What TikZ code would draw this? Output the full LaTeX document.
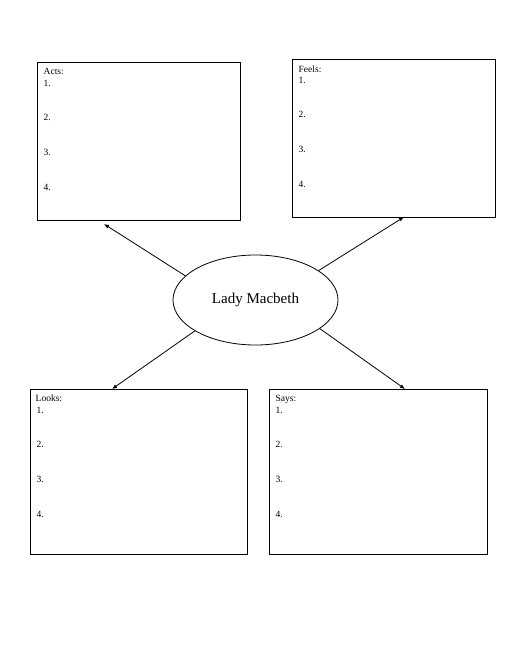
\documentclass[tikz,border=0pt]{standalone}
\usepackage{fontspec}
\setmainfont{Liberation Serif}
\usetikzlibrary{shapes.geometric,arrows.meta}
\begin{document}
\begin{tikzpicture}[x=1pt,y=-1pt,
  panel/.style={draw=black,line width=1pt,rectangle,inner sep=0pt},
  heading/.style={anchor=base west,inner sep=0pt,font=\fontsize{9.5}{11}\selectfont},
  item/.style={anchor=base west,inner sep=0pt,font=\fontsize{9.5}{11}\selectfont},
  link/.style={line width=0.8pt,-{Latex[length=5pt,width=4pt]}}]
\useasboundingbox (0,0) rectangle (510,660);

% the four boxes
\node[panel,minimum width=203pt,minimum height=157pt] (acts) at (138.5,141.5) {};
\node[panel,minimum width=203pt,minimum height=157pt] (feels) at (393.5,138.5) {};
\node[panel,minimum width=217pt,minimum height=165pt] (looks) at (138.5,471.5) {};
\node[panel,minimum width=218pt,minimum height=165pt] (says) at (378,471.5) {};

% headings and numbered lines
\node[heading] (acts-t) at ([shift={(7,12)}]acts.north west) {Acts:};
\node[heading] (feels-t) at ([shift={(7,13)}]feels.north west) {Feels:};
\node[heading] (looks-t) at ([shift={(6,13)}]looks.north west) {Looks:};
\node[heading] (says-t) at ([shift={(7,13)}]says.north west) {Says:};
\foreach \b in {acts,feels,looks,says}
  \foreach \i/\d in {1/24.5,2/58.5,3/93.5,4/128.5}
    \node[item] (\b-\i) at ([shift={(7,\d)}]\b.north west) {\i.};

% centre
\node[draw=black,line width=0.8pt,ellipse,minimum width=165pt,minimum height=90pt,
  inner sep=0pt,font=\fontsize{15}{17}\selectfont] (lady) at (255.5,300) {Lady Macbeth};

% arrow ends
\coordinate (acts-in) at (104,224);
\coordinate (feels-in) at (404,217);
\coordinate (looks-in) at (112,389);
\coordinate (says-in) at (405,389);

\draw[link] (lady.161) -- (acts-in);
\draw[link] (lady.25) -- (feels-in);
\draw[link] (lady.207) -- (looks-in);
\draw[link] (lady.336) -- (says-in);

\end{tikzpicture}
\end{document}
